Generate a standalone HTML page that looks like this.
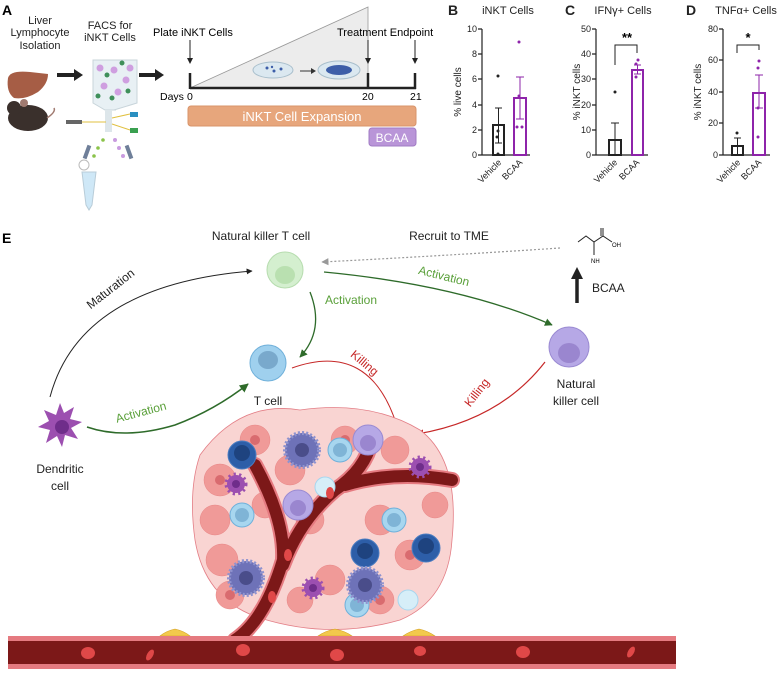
<!DOCTYPE html>
<html><head><meta charset="utf-8"><style>
html,body{margin:0;padding:0;background:#fff}
svg{display:block}
text{font-family:"Liberation Sans",sans-serif}
</style></head><body>
<svg width="784" height="673" viewBox="0 0 784 673" xmlns="http://www.w3.org/2000/svg">
<defs>
<marker id="ak" viewBox="0 0 10 10" refX="9" refY="5" markerWidth="6" markerHeight="6" orient="auto"><path d="M0,0L10,5L0,10z" fill="#222"/></marker>
<marker id="ag" viewBox="0 0 10 10" refX="9" refY="5" markerWidth="6" markerHeight="6" orient="auto"><path d="M0,0L10,5L0,10z" fill="#2e6b2a"/></marker>
<marker id="ar" viewBox="0 0 10 10" refX="9" refY="5" markerWidth="6" markerHeight="6" orient="auto"><path d="M0,0L10,5L0,10z" fill="#c62828"/></marker>
<marker id="agr" viewBox="0 0 10 10" refX="9" refY="5" markerWidth="6" markerHeight="6" orient="auto"><path d="M0,0L10,5L0,10z" fill="#999"/></marker>
</defs>

<!-- Panel A -->
<text x="2" y="15" font-size="14" font-weight="bold">A</text>
<g font-size="11" text-anchor="middle" fill="#222">
<text x="40" y="24">Liver</text><text x="40" y="36">Lymphocyte</text><text x="40" y="49">Isolation</text>
<text x="110" y="29">FACS for</text><text x="110" y="41">iNKT Cells</text>
</g>
<path d="M8,78 Q10,70 30,72 L48,74 Q48,84 38,92 Q25,100 14,98 Q6,92 8,78z" fill="#a65d45"/>
<ellipse cx="28" cy="118" rx="20" ry="13" fill="#3a302c"/><circle cx="14" cy="108" r="7" fill="#3a302c"/><circle cx="24" cy="103" r="4" fill="#a07a70"/>
<path d="M47,118 Q56,112 54,108" stroke="#a07a70" fill="none" stroke-width="1.5"/>
<path d="M57,75H76" stroke="#222" stroke-width="4"/><path d="M74,69L83,75L74,81z" fill="#222"/>
<path d="M139,75H157" stroke="#222" stroke-width="4"/><path d="M155,69L164,75L155,81z" fill="#222"/>
<path d="M93,60H137V103L114,110H116L105,110L93,103z" fill="#e8f0f4" stroke="#c8d4da"/>
<g fill="#cf9fe0"><circle cx="100" cy="68" r="3.5"/><circle cx="114" cy="70" r="3.5"/><circle cx="126" cy="80" r="3.5"/><circle cx="104" cy="86" r="3.5"/><circle cx="118" cy="92" r="3.5"/><circle cx="130" cy="68" r="3.5"/></g>
<g fill="#3f8f5a"><circle cx="107" cy="75" r="2.5"/><circle cx="122" cy="63" r="2.5"/><circle cx="112" cy="98" r="2.5"/><circle cx="98" cy="96" r="2.5"/><circle cx="128" cy="91" r="2.5"/></g>
<rect x="105" y="110" width="7" height="22" fill="#dde6ea"/>
<rect x="66" y="120" width="16" height="4" fill="#666"/><path d="M82,122H106M112,118L130,114M112,124L130,130" stroke="#e0c040" stroke-width="1"/>
<rect x="130" y="112" width="8" height="5" fill="#2a8fc0"/><rect x="130" y="128" width="8" height="5" fill="#3aa050"/>
<g fill="#8bc34a"><circle cx="103" cy="140" r="1.8"/><circle cx="98" cy="148" r="1.8"/><circle cx="94" cy="156" r="1.8"/></g>
<g fill="#c99ce0"><circle cx="115" cy="140" r="2"/><circle cx="119" cy="148" r="2"/><circle cx="123" cy="156" r="2"/></g>
<rect x="85" y="145" width="4" height="14" fill="#6f7f99" transform="rotate(20 87 152)"/><rect x="127" y="145" width="4" height="14" fill="#6f7f99" transform="rotate(-20 129 152)"/>
<path d="M82,172H96L92,205L89,210L86,205z" fill="#cfe8f7" stroke="#b8ccd8"/><circle cx="84" cy="165" r="5" fill="none" stroke="#bbb"/>

<!-- timeline -->
<path d="M190,88L368,7V88z" fill="#ececec" stroke="#999" stroke-width="0.8"/>
<ellipse cx="273" cy="70" rx="20" ry="8" fill="#dbe8f0" stroke="#a9bfcc"/>
<g fill="#3d5ea8"><circle cx="267" cy="68" r="1.5"/><circle cx="274" cy="71" r="1.5"/><circle cx="281" cy="69" r="1.5"/><circle cx="272" cy="67" r="1.2"/></g>
<path d="M300,71H313" stroke="#333"/><path d="M311,68L316,71L311,74z" fill="#333"/>
<ellipse cx="339" cy="70" rx="21" ry="9" fill="#dbe8f0" stroke="#a9bfcc"/>
<ellipse cx="339" cy="70" rx="13" ry="5" fill="#3d5ea8"/>
<path d="M190,88H416M190,73V89M368,73V89M415,73V89" stroke="#222" stroke-width="2.5"/>
<path d="M190,40V60M368,40V60M415,40V60" stroke="#222" stroke-width="1"/>
<path d="M187,58L190,64L193,58z M365,58L368,64L371,58z M412,58L415,64L418,58z" fill="#222"/>
<text x="153" y="36" font-size="11">Plate iNKT Cells</text>
<text x="337" y="36" font-size="11">Treatment Endpoint</text>
<g font-size="10.5"><text x="160" y="100">Days</text><text x="187" y="100">0</text><text x="362" y="100">20</text><text x="410" y="100">21</text></g>
<rect x="188" y="106" width="228" height="20" rx="3" fill="#e7a67c" stroke="#d8946a"/>
<text x="302" y="121" font-size="13" fill="#fff" text-anchor="middle">iNKT Cell Expansion</text>
<rect x="369" y="128" width="47" height="18" rx="3" fill="#b995d8" stroke="#a17cc4"/>
<text x="392" y="142" font-size="12" fill="#fff" text-anchor="middle">BCAA</text>

<!-- Charts -->
<g font-size="9.5" fill="#222">
<text x="448" y="15" font-size="14" font-weight="bold">B</text>
<text x="508" y="14" font-size="11" text-anchor="middle">iNKT Cells</text>
<text x="565" y="15" font-size="14" font-weight="bold">C</text>
<text x="623" y="14" font-size="11" text-anchor="middle">IFNγ+ Cells</text>
<text x="686" y="15" font-size="14" font-weight="bold">D</text>
<text x="746" y="14" font-size="11" text-anchor="middle">TNFα+ Cells</text>
</g>
<g stroke="#222" stroke-width="1.2" fill="none">
<path d="M482,29V155H530M478,29H482M478,54H482M478,79H482M478,105H482M478,130H482M478,155H482"/>
<path d="M596,29V155H648M592,29H596M592,54H596M592,79H596M592,105H596M592,130H596M592,155H596"/>
<path d="M723,29V155H770M719,29H723M719,60H723M719,92H723M719,123H723M719,155H723"/>
</g>
<g font-size="9" text-anchor="end" fill="#222">
<text x="477" y="32">10</text><text x="477" y="57">8</text><text x="477" y="82">6</text><text x="477" y="108">4</text><text x="477" y="133">2</text><text x="477" y="158">0</text>
<text x="591" y="32">50</text><text x="591" y="57">40</text><text x="591" y="82">30</text><text x="591" y="108">20</text><text x="591" y="133">10</text><text x="591" y="158">0</text>
<text x="718" y="32">80</text><text x="718" y="63">60</text><text x="718" y="95">40</text><text x="718" y="126">20</text><text x="718" y="158">0</text>
</g>
<g font-size="10" text-anchor="middle" fill="#222">
<text transform="translate(461,92) rotate(-90)">% live cells</text>
<text transform="translate(580,92) rotate(-90)">% iNKT cells</text>
<text transform="translate(701,92) rotate(-90)">% iNKT cells</text>
</g>
<g font-size="9" text-anchor="end" fill="#222">
<text transform="translate(502,163) rotate(-45)">Vehicle</text><text transform="translate(523,163) rotate(-45)">BCAA</text>
<text transform="translate(618,163) rotate(-45)">Vehicle</text><text transform="translate(640,163) rotate(-45)">BCAA</text>
<text transform="translate(741,163) rotate(-45)">Vehicle</text><text transform="translate(762,163) rotate(-45)">BCAA</text>
</g>
<!-- bars -->
<g fill="none" stroke-width="2">
<rect x="493" y="125" width="11" height="30" stroke="#222"/><rect x="514" y="98" width="12" height="57" stroke="#8e24aa"/>
<rect x="609" y="140" width="12" height="15" stroke="#222"/><rect x="632" y="70" width="11" height="85" stroke="#8e24aa"/>
<rect x="732" y="146" width="11" height="9" stroke="#222"/><rect x="753" y="93" width="12" height="62" stroke="#8e24aa"/>
</g>
<g stroke-width="1" fill="none">
<path d="M498.5,108V143M495,108H502M495,143H502" stroke="#222"/>
<path d="M520,77V119M516,77H524M516,119H524" stroke="#8e24aa"/>
<path d="M615,123V155M611,123H619" stroke="#222"/>
<path d="M637.5,65V74M634,65H641M634,74H641" stroke="#8e24aa"/>
<path d="M737.5,138V155M734,138H741" stroke="#222"/>
<path d="M759,75V108M755,75H763M755,108H763" stroke="#8e24aa"/>
<path d="M615,65V45H637V53M737,53V45H759V50" stroke="#222"/>
</g>
<g fill="#222"><circle cx="498" cy="76" r="1.5"/><circle cx="498" cy="131" r="1.5"/><circle cx="497" cy="137" r="1.5"/><circle cx="498" cy="154" r="1.5"/>
<circle cx="615" cy="92" r="1.5"/><circle cx="737" cy="133" r="1.5"/></g>
<g fill="#8e24aa"><circle cx="519" cy="42" r="1.5"/><circle cx="519" cy="96" r="1.5"/><circle cx="517" cy="127" r="1.5"/><circle cx="522" cy="127" r="1.5"/>
<circle cx="638" cy="60" r="1.5"/><circle cx="636" cy="64" r="1.5"/><circle cx="636" cy="77" r="1.5"/>
<circle cx="759" cy="61" r="1.5"/><circle cx="758" cy="68" r="1.5"/><circle cx="758" cy="108" r="1.5"/><circle cx="758" cy="137" r="1.5"/></g>
<text x="627" y="42" font-size="13" font-weight="bold" text-anchor="middle">**</text>
<text x="748" y="42" font-size="13" font-weight="bold" text-anchor="middle">*</text>

<!-- Panel E -->
<text x="2" y="243" font-size="14" font-weight="bold">E</text>
<text x="261" y="240" font-size="12" text-anchor="middle" fill="#222">Natural killer T cell</text>
<text x="449" y="240" font-size="12" text-anchor="middle" fill="#222">Recruit to TME</text>
<!-- valine -->
<path d="M578,242L586,236L594,242L603,236L612,242M594,242V255M603,236V228M601,236V228" stroke="#222" stroke-width="1" fill="none"/>
<text x="612" y="247" font-size="6">OH</text><text x="591" y="263" font-size="6">NH</text>
<path d="M577,303V277" stroke="#222" stroke-width="3.5"/><path d="M571,279L577,267L583,279z" fill="#222"/>
<text x="592" y="292" font-size="12" fill="#222">BCAA</text>

<!-- arrows -->
<path d="M560,248Q440,256 322,262" stroke="#999" stroke-width="1.2" stroke-dasharray="2,2" fill="none" marker-end="url(#agr)"/>
<path d="M50,397Q80,285 252,271" stroke="#222" stroke-width="1" fill="none" marker-end="url(#ak)"/>
<text transform="translate(113,292) rotate(-38)" font-size="12" text-anchor="middle" fill="#222">Maturation</text>
<path d="M310,292Q325,330 300,357" stroke="#2e6b2a" stroke-width="1.3" fill="none" marker-end="url(#ag)"/>
<text x="325" y="304" font-size="12" fill="#5aa03a">Activation</text>
<path d="M324,272Q460,285 552,325" stroke="#2e6b2a" stroke-width="1.3" fill="none" marker-end="url(#ag)"/>
<text transform="translate(443,280) rotate(14)" font-size="12" text-anchor="middle" fill="#5aa03a">Activation</text>
<path d="M87,427Q125,440 175,425Q215,410 248,384" stroke="#2e6b2a" stroke-width="1.5" fill="none" marker-end="url(#ag)"/>
<text transform="translate(142,416) rotate(-15)" font-size="12" text-anchor="middle" fill="#5aa03a">Activation</text>
<path d="M292,368Q370,340 397,426" stroke="#c62828" stroke-width="1" fill="none" marker-end="url(#ar)"/>
<text transform="translate(362,366) rotate(40)" font-size="12" text-anchor="middle" fill="#c62828">Killing</text>
<path d="M545,362Q500,420 417,434" stroke="#c62828" stroke-width="1.2" fill="none" marker-end="url(#ar)"/>
<text transform="translate(480,395) rotate(-52)" font-size="12" text-anchor="middle" fill="#c62828">Killing</text>

<!-- cells -->
<circle cx="285" cy="270" r="18" fill="#d4efcf" stroke="#b6dcae"/><ellipse cx="285" cy="275" rx="10" ry="9" fill="#b9e0b0"/>
<circle cx="268" cy="363" r="18" fill="#9fd0ee" stroke="#6fb0da"/><ellipse cx="268" cy="360" rx="10" ry="9" fill="#79a9cc"/>
<circle cx="569" cy="347" r="20" fill="#b6a8e6" stroke="#9a8ad2"/><ellipse cx="569" cy="353" rx="11" ry="10" fill="#9a86cf"/>
<g transform="translate(60,425)">
<path d="M0,-22L4,-12L14,-18L10,-6L22,-3L11,3L18,14L5,10L2,22L-3,11L-14,18L-10,5L-22,2L-11,-4L-16,-15L-4,-10z" fill="#9c4fb0"/>
<circle cx="2" cy="2" r="7" fill="#6f2d8a"/></g>
<text x="268" y="405" font-size="12" text-anchor="middle" fill="#222">T cell</text>
<text x="576" y="388" font-size="12" text-anchor="middle" fill="#222">Natural</text>
<text x="576" y="405" font-size="12" text-anchor="middle" fill="#222">killer cell</text>
<text x="60" y="473" font-size="12" text-anchor="middle" fill="#222">Dendritic</text>
<text x="60" y="490" font-size="12" text-anchor="middle" fill="#222">cell</text>

<!-- tumor -->
<path d="M200,455Q240,400 300,410Q370,400 420,430Q460,460 452,540Q448,600 400,620Q330,640 260,618Q205,600 195,540Q188,490 200,455z" fill="#f9d4d2" stroke="#e37e86" stroke-width="0.8"/>
<g fill="#f09a98" stroke="#e88585" stroke-width="0.5">
<circle cx="220" cy="480" r="16"/><circle cx="215" cy="520" r="15"/><circle cx="222" cy="560" r="16"/><circle cx="230" cy="595" r="14"/>
<circle cx="255" cy="440" r="15"/><circle cx="290" cy="470" r="15"/><circle cx="310" cy="520" r="14"/><circle cx="345" cy="440" r="14"/>
<circle cx="395" cy="450" r="14"/><circle cx="380" cy="520" r="15"/><circle cx="410" cy="555" r="15"/><circle cx="330" cy="580" r="15"/>
<circle cx="380" cy="600" r="14"/><circle cx="300" cy="600" r="13"/><circle cx="435" cy="505" r="13"/><circle cx="265" cy="505" r="13"/>
</g>
<g fill="#d96b6f"><circle cx="220" cy="480" r="5"/><circle cx="255" cy="440" r="5"/><circle cx="345" cy="440" r="5"/><circle cx="410" cy="555" r="5"/><circle cx="230" cy="595" r="5"/><circle cx="380" cy="600" r="5"/></g>
<!-- vessels -->
<g fill="none" stroke-linecap="round">
<path d="M235,640Q265,620 283,560Q285,520 255,465M283,565Q300,520 335,490Q365,470 372,440M345,485Q395,470 452,480" stroke="#e57a80" stroke-width="16"/>
<path d="M235,640Q265,620 283,560Q285,520 255,465M283,565Q300,520 335,490Q365,470 372,440M345,485Q395,470 452,480" stroke="#7c1818" stroke-width="12"/>
</g>
<!-- immune cells in tumor -->
<g stroke-width="1">
<circle cx="242" cy="455" r="14" fill="#2d5ea8" stroke="#4a7cc0"/><circle cx="242" cy="453" r="8" fill="#1e437f"/>
<circle cx="365" cy="553" r="14" fill="#2d5ea8" stroke="#4a7cc0"/><circle cx="365" cy="551" r="8" fill="#1e437f"/>
<circle cx="426" cy="548" r="14" fill="#2d5ea8" stroke="#4a7cc0"/><circle cx="426" cy="546" r="8" fill="#1e437f"/>
<circle cx="340" cy="450" r="12" fill="#a7d6ef" stroke="#6fb0da"/><circle cx="340" cy="450" r="7" fill="#7fb4d6"/>
<circle cx="242" cy="515" r="12" fill="#a7d6ef" stroke="#6fb0da"/><circle cx="242" cy="515" r="7" fill="#7fb4d6"/>
<circle cx="394" cy="520" r="12" fill="#a7d6ef" stroke="#6fb0da"/><circle cx="394" cy="520" r="7" fill="#7fb4d6"/>
<circle cx="357" cy="605" r="12" fill="#a7d6ef" stroke="#6fb0da"/><circle cx="357" cy="605" r="7" fill="#7fb4d6"/>
<circle cx="325" cy="487" r="10" fill="#d6eef8" stroke="#a7d6ef"/><circle cx="408" cy="600" r="10" fill="#d6eef8" stroke="#a7d6ef"/>
<circle cx="368" cy="440" r="15" fill="#b6a8e6" stroke="#9a8ad2"/><circle cx="368" cy="443" r="8" fill="#9a86cf"/>
<circle cx="298" cy="505" r="15" fill="#b6a8e6" stroke="#9a8ad2"/><circle cx="298" cy="508" r="8" fill="#9a86cf"/>
</g>
<g fill="#6e72b8"><circle cx="302" cy="450" r="17" stroke="#8f93cf" stroke-width="4" stroke-dasharray="2,2"/><circle cx="246" cy="578" r="17" stroke="#8f93cf" stroke-width="4" stroke-dasharray="2,2"/><circle cx="365" cy="585" r="17" stroke="#8f93cf" stroke-width="4" stroke-dasharray="2,2"/></g>
<g fill="#4a4d8a"><circle cx="302" cy="450" r="7"/><circle cx="246" cy="578" r="7"/><circle cx="365" cy="585" r="7"/></g>
<g fill="#9c4fb0" stroke="#9c4fb0" stroke-width="5" stroke-dasharray="2,3"><circle cx="236" cy="484" r="9"/><circle cx="420" cy="467" r="9"/><circle cx="313" cy="588" r="9"/></g>
<g fill="#6f2d8a"><circle cx="236" cy="484" r="4"/><circle cx="420" cy="467" r="4"/><circle cx="313" cy="588" r="4"/></g>
<!-- pericytes -->
<g fill="#f2c94c" stroke="#d4a020" stroke-width="0.6"><path d="M160,636Q166,631 175,629Q184,631 190,636z"/><path d="M318,636Q325,631 335,629Q345,631 352,636z"/><path d="M403,636Q410,631 419,629Q428,631 435,636z"/></g>
<!-- main vessel -->
<rect x="8" y="636" width="668" height="33" fill="#e57a80"/>
<rect x="8" y="641" width="668" height="23" fill="#7c1818"/>
<g fill="#e04848"><ellipse cx="88" cy="653" rx="7" ry="6"/><ellipse cx="150" cy="655" rx="3" ry="6" transform="rotate(30 150 655)"/><ellipse cx="243" cy="650" rx="7" ry="6"/><ellipse cx="337" cy="655" rx="7" ry="6"/><ellipse cx="420" cy="651" rx="6" ry="5"/><ellipse cx="523" cy="652" rx="7" ry="6"/><ellipse cx="631" cy="652" rx="3" ry="6" transform="rotate(30 631 652)"/>
<ellipse cx="272" cy="597" rx="4" ry="6"/><ellipse cx="288" cy="555" rx="4" ry="6"/><ellipse cx="330" cy="493" rx="4" ry="6"/></g>
</svg>
</body></html>
